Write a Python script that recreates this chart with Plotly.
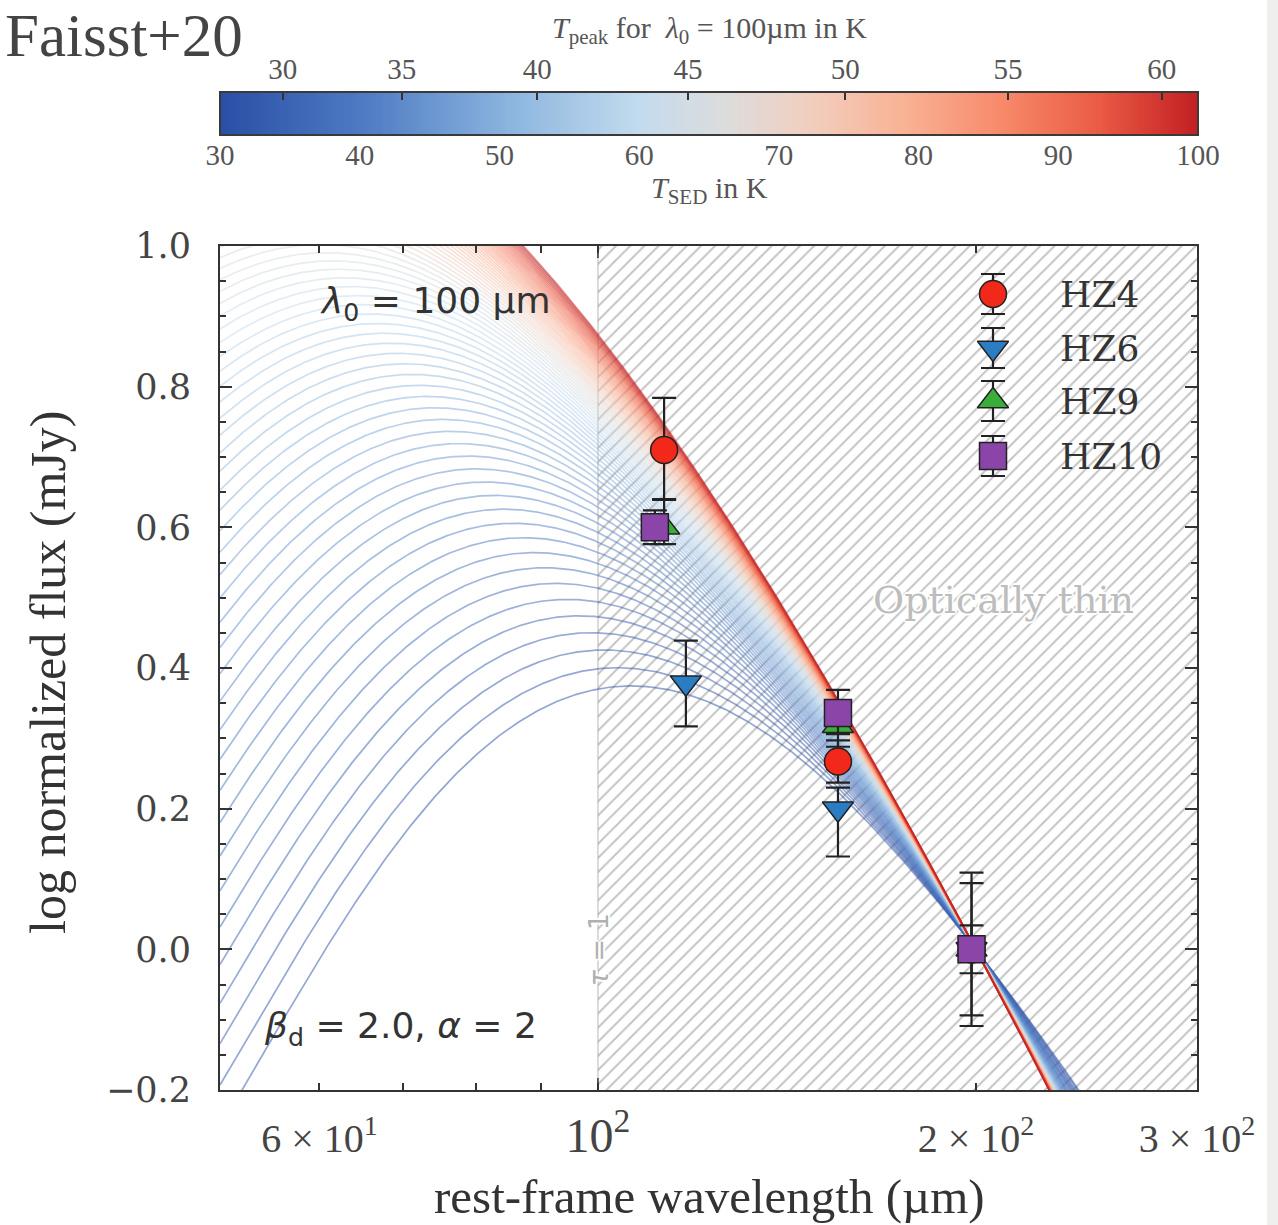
import numpy as np
import plotly.graph_objects as go
from plotly.colors import sample_colorscale

# ---------------------------------------------------------------- model setup
HC_OVER_K = 14387.77          # hc/k in micron * K
lam0 = 100.0                  # wavelength where tau = 1 (micron)
beta_d = 2.0                  # dust emissivity index
alpha_pl = 2.0                # mid-IR power-law slope
lam_norm = 200.0              # normalisation wavelength (micron)
T_sed = np.arange(30, 101, 1)             # SED dust temperatures (K)
T_min, T_max = 30, 100
x_min, x_max = 50.0, 300.0
y_min, y_max = -0.2, 1.0
wavelength = np.geomspace(x_min, x_max, 500)

# colour scale used for the curves and the colour bar
temp_colorscale = [
    [0.00, "#2a4ea6"], [0.15, "#4f7cc4"], [0.30, "#8db6df"],
    [0.43, "#c4dbee"], [0.52, "#dddcdb"], [0.60, "#f1cfc0"],
    [0.70, "#f9b294"], [0.80, "#f7896a"], [0.90, "#ea5a44"],
    [1.00, "#c21f22"],
]

# T_peak (lambda0 = 100 micron) ticks placed at the matching T_SED values
tpeak_labels = [30, 35, 40, 45, 50, 55, 60]
tpeak_at_tsed = [34.5, 43.0, 52.7, 63.5, 74.75, 86.4, 97.4]

# ---------------------------------------------------------------- photometry
galaxies = ["HZ4", "HZ6", "HZ9", "HZ10"]
gal_symbol = {"HZ4": "circle", "HZ6": "triangle-down",
              "HZ9": "triangle-up", "HZ10": "square"}
gal_color = {"HZ4": "#f2281b", "HZ6": "#2a7dc2",
             "HZ9": "#3aae3a", "HZ10": "#8b45a9"}
obs_wave = {
    "HZ4": [112.9, 155.3, 198.4],
    "HZ6": [117.5, 155.3, 198.4],
    "HZ9": [112.9, 155.3, 198.4],
    "HZ10": [111.0, 155.3, 198.4],
}
obs_logflux = {
    "HZ4": [0.710, 0.267, 0.0],
    "HZ6": [0.379, 0.200, 0.0],
    "HZ9": [0.600, 0.318, 0.0],
    "HZ10": [0.600, 0.336, 0.0],
}
obs_err_plus = {
    "HZ4": [0.074, 0.030, 0.034],
    "HZ6": [0.060, 0.030, 0.109],
    "HZ9": [0.040, 0.030, 0.094],
    "HZ10": [0.024, 0.033, 0.015],
}
obs_err_minus = {
    "HZ4": [0.071, 0.030, 0.034],
    "HZ6": [0.062, 0.068, 0.109],
    "HZ9": [0.024, 0.030, 0.094],
    "HZ10": [0.024, 0.030, 0.015],
}


def graybody(lam, T):
    tau = (lam0 / lam) ** beta_d
    return (1.0 - np.exp(-tau)) * lam ** -3 / np.expm1(HC_OVER_K / (lam * T))


def sed(lam, T):
    """General-opacity graybody plus a mid-IR power law (Casey 2012 form)."""
    grid = np.geomspace(5.0, 300.0, 20000)
    slope = np.gradient(np.log(graybody(grid, T)), np.log(grid))
    lam_c = grid[np.argmax(slope <= alpha_pl)]
    n_pl = graybody(lam_c, T) * lam_c ** -alpha_pl
    return graybody(lam, T) + n_pl * lam ** alpha_pl * np.exp(-(lam / lam_c) ** 2)


# ---------------------------------------------------------------- figure
W, H = 1278, 1225
plot_l, plot_r, plot_t, plot_b = 220, 1197, 246, 1090
cbar_t, cbar_b = 92, 135
dom_x = [plot_l / W, plot_r / W]
dom_y = [1 - plot_b / H, 1 - plot_t / H]

fig = go.Figure()

# hatched optically-thin region (tau < 1 for lambda > lambda0)
fig.add_trace(go.Scatter(
    x=[lam0, x_max, x_max, lam0, lam0], y=[y_min, y_min, y_max, y_max, y_min],
    mode="lines", line=dict(width=0), fill="toself",
    fillcolor="rgba(0,0,0,0)",
    fillpattern=dict(shape="/", size=10, solidity=0.2,
                     fgcolor="#888888", bgcolor="rgba(0,0,0,0)"),
    hoverinfo="skip", showlegend=False))

# SED curves
norm_T = (T_sed - T_min) / (T_max - T_min)
curve_colors = sample_colorscale(temp_colorscale, list(norm_T))
for T, col in zip(T_sed, curve_colors):
    flux = np.log10(sed(wavelength, T) / sed(np.array([lam_norm]), T)[0])
    fig.add_trace(go.Scatter(
        x=wavelength, y=flux, mode="lines",
        line=dict(color=col, width=1.7), opacity=0.5,
        hoverinfo="skip", showlegend=False))

# photometry
for g in galaxies:
    fig.add_trace(go.Scatter(
        x=obs_wave[g], y=obs_logflux[g], mode="markers", name=g,
        marker=dict(symbol=gal_symbol[g], size=27, color=gal_color[g],
                    line=dict(color="#222222", width=1.5)),
        error_y=dict(type="data", array=obs_err_plus[g],
                     arrayminus=obs_err_minus[g], symmetric=False,
                     color="#222222", thickness=2.2, width=12),
        showlegend=False))

# legend drawn on an overlay axis in plot-fraction units
leg_x = (993 - plot_l) / (plot_r - plot_l)
leg_text_x = (1058 - plot_l) / (plot_r - plot_l)
leg_rows = [294, 348, 401, 456]
leg_err = 20 / (plot_b - plot_t)
for g, row in zip(galaxies, leg_rows):
    yy = 1 - (row - plot_t) / (plot_b - plot_t)
    fig.add_trace(go.Scatter(
        x=[leg_x], y=[yy], xaxis="x5", yaxis="y5", mode="markers",
        marker=dict(symbol=gal_symbol[g], size=27, color=gal_color[g],
                    line=dict(color="#222222", width=1.5)),
        error_y=dict(type="constant", value=leg_err, color="#222222",
                     thickness=2.2, width=12),
        hoverinfo="skip", showlegend=False))
    fig.add_annotation(x=leg_text_x, y=yy, xref="x5", yref="y5", text=g,
                       showarrow=False, xanchor="left", yanchor="middle",
                       font=dict(family="DejaVu Serif", size=36, color="#333333"))

# colour bar as a heatmap strip
cb_T = np.linspace(T_min, T_max, 351)
fig.add_trace(go.Heatmap(
    x=cb_T, y=[0], z=[cb_T], colorscale=temp_colorscale,
    zmin=T_min, zmax=T_max, showscale=False, xaxis="x3", yaxis="y3",
    hoverinfo="skip"))
fig.add_trace(go.Scatter(x=[T_min, T_max], y=[0, 0], xaxis="x4", yaxis="y3",
                         mode="markers", marker=dict(opacity=0),
                         hoverinfo="skip", showlegend=False))

axis_col = "#333333"
x_ticks = [60, 100, 200, 300]
x_ticktext = ["6 × 10<sup>1</sup>",
              "<span style='font-size:48px'>10<sup>2</sup></span>",
              "2 × 10<sup>2</sup>", "3 × 10<sup>2</sup>"]
y_ticks = [-0.2, 0.0, 0.2, 0.4, 0.6, 0.8, 1.0]
y_ticktext = ["−0.2", "0.0", "0.2", "0.4", "0.6", "0.8", "1.0"]

fig.update_layout(
    width=W, height=H, margin=dict(l=0, r=0, t=0, b=0),
    paper_bgcolor="white", plot_bgcolor="white", showlegend=False,
    xaxis=dict(type="log", range=[np.log10(x_min), np.log10(x_max)],
               domain=dom_x, anchor="y", showgrid=False, zeroline=False,
               showline=True, linecolor=axis_col, linewidth=2, mirror="allticks",
               ticks="inside", ticklen=7, tickwidth=1.5, tickcolor=axis_col,
               tickvals=x_ticks, ticktext=x_ticktext, ticklabelstandoff=12,
               tickfont=dict(family="Liberation Serif", size=40, color="#444444"),
               minor=dict(tickvals=[70, 80, 90], ticks="inside", ticklen=7,
                          tickwidth=1.5, tickcolor=axis_col),
               automargin=False),
    yaxis=dict(range=[y_min, y_max], domain=dom_y, anchor="x", showgrid=False,
               zeroline=False, showline=True, linecolor=axis_col, linewidth=2,
               mirror="allticks", ticks="inside", ticklen=12, tickwidth=1.5,
               tickcolor=axis_col, tickvals=y_ticks, ticktext=y_ticktext,
               ticklabelstandoff=20,
               tickfont=dict(family="DejaVu Serif", size=35, color="#444444"),
               minor=dict(dtick=0.05, ticks="inside", ticklen=6, tickwidth=1.5,
                          tickcolor=axis_col),
               automargin=False),
    xaxis5=dict(overlaying="x", anchor="y5", range=[0, 1], visible=False),
    yaxis5=dict(overlaying="y", anchor="x5", range=[0, 1], visible=False),
    xaxis3=dict(domain=[plot_l / W, 1198 / W], anchor="y3",
                range=[T_min, T_max], showgrid=False, zeroline=False,
                tickvals=list(range(30, 101, 10)), ticks="",
                ticklabelstandoff=0,
                tickfont=dict(family="Liberation Serif", size=29, color="#555555"),
                automargin=False),
    xaxis4=dict(overlaying="x3", anchor="y3", side="top",
                range=[T_min, T_max], showgrid=False, zeroline=False,
                tickvals=tpeak_at_tsed, ticktext=[str(v) for v in tpeak_labels],
                ticks="inside", ticklen=8, tickwidth=1.5, tickcolor=axis_col,
                ticklabelstandoff=6,
                tickfont=dict(family="Liberation Serif", size=29, color="#555555"),
                automargin=False),
    yaxis3=dict(domain=[1 - cbar_b / H, 1 - cbar_t / H], anchor="x3",
                range=[-0.5, 0.5], visible=False),
)

# longer major tick at 10^2 (bottom and top)
for y0, y1 in [(0, 12 / (plot_b - plot_t)), (1 - 12 / (plot_b - plot_t), 1)]:
    fig.add_shape(type="line", xref="x", yref="y domain", x0=lam0, x1=lam0,
                  y0=y0, y1=y1, line=dict(color=axis_col, width=1.5))

# tau = 1 line
fig.add_shape(type="line", xref="x", yref="y domain", x0=lam0, x1=lam0,
              y0=0, y1=1, line=dict(color="#c4c4c4", width=1.2), layer="below")

# colour bar outline
fig.add_shape(type="rect", xref="x3 domain", yref="y3 domain", x0=0, x1=1,
              y0=0, y1=1, line=dict(color="#3a3a3a", width=2))

# thin strip at the right edge of the canvas
fig.add_shape(type="rect", xref="paper", yref="paper", x0=1267 / W, x1=1,
              y0=0, y1=1, line=dict(width=0), fillcolor="#efefeb", layer="below")

white_halo = ("1px 1px 1px white, -1px -1px 1px white, 1px -1px 1px white, "
              "-1px 1px 1px white, 2px 0px 1px white, -2px 0px 1px white, "
              "0px 2px 1px white, 0px -2px 1px white")

annotations = [
    dict(x=0.002, y=1 - 35 / H, xref="paper", yref="paper", text="Faisst+20",
         xanchor="left", yanchor="middle",
         font=dict(family="Liberation Serif", size=61, color="#444444")),
    dict(x=709 / W, y=1 - 30 / H, xref="paper", yref="paper",
         text="<i>T</i><sub>peak</sub> for  <i>λ</i><sub>0</sub> = 100µm in K",
         xanchor="center", yanchor="middle",
         font=dict(family="Liberation Serif", size=30, color="#555555")),
    dict(x=709 / W, y=1 - 190 / H, xref="paper", yref="paper",
         text="<i>T</i><sub>SED</sub> in K", xanchor="center", yanchor="middle",
         font=dict(family="Liberation Serif", size=30, color="#555555")),
    dict(x=709 / W, y=1 - 1196 / H, xref="paper", yref="paper",
         text="rest-frame wavelength (µm)", xanchor="center", yanchor="middle",
         font=dict(family="Liberation Serif", size=49, color="#333333")),
    dict(x=48 / W, y=1 - 672 / H, xref="paper", yref="paper",
         text="log normalized flux (mJy)", textangle=-90,
         xanchor="center", yanchor="middle",
         font=dict(family="Liberation Serif", size=50, color="#333333")),
    dict(x=(435 - plot_l) / (plot_r - plot_l), y=1 - (303 - plot_t) / (plot_b - plot_t),
         xref="x domain", yref="y domain",
         text="<i>λ</i><sub>0</sub> = 100 µm", xanchor="center", yanchor="middle",
         font=dict(family="DejaVu Sans", size=36, color="#333333")),
    dict(x=(400 - plot_l) / (plot_r - plot_l), y=1 - (1028 - plot_t) / (plot_b - plot_t),
         xref="x domain", yref="y domain",
         text="<i>β</i><sub>d</sub> = 2.0, <i>α</i> = 2", xanchor="center",
         yanchor="middle",
         font=dict(family="DejaVu Sans", size=36, color="#333333")),
    dict(x=(1003 - plot_l) / (plot_r - plot_l), y=1 - (600 - plot_t) / (plot_b - plot_t),
         xref="x domain", yref="y domain", text="Optically thin",
         xanchor="center", yanchor="middle",
         font=dict(family="DejaVu Serif", size=38, color="#bdbdbd",
                   shadow=white_halo)),
    # annotation x on a log axis is given in log10 units
    dict(x=np.log10(lam0), y=0.0, xref="x", yref="y", text="<i>τ</i> = 1",
         textangle=-90, xanchor="center", yanchor="middle",
         font=dict(family="DejaVu Sans", size=27, color="#b0b0b0",
                   shadow=white_halo)),
]
for a in annotations:
    a.setdefault("showarrow", False)
    fig.add_annotation(**a)

fig.write_html("out.html")
